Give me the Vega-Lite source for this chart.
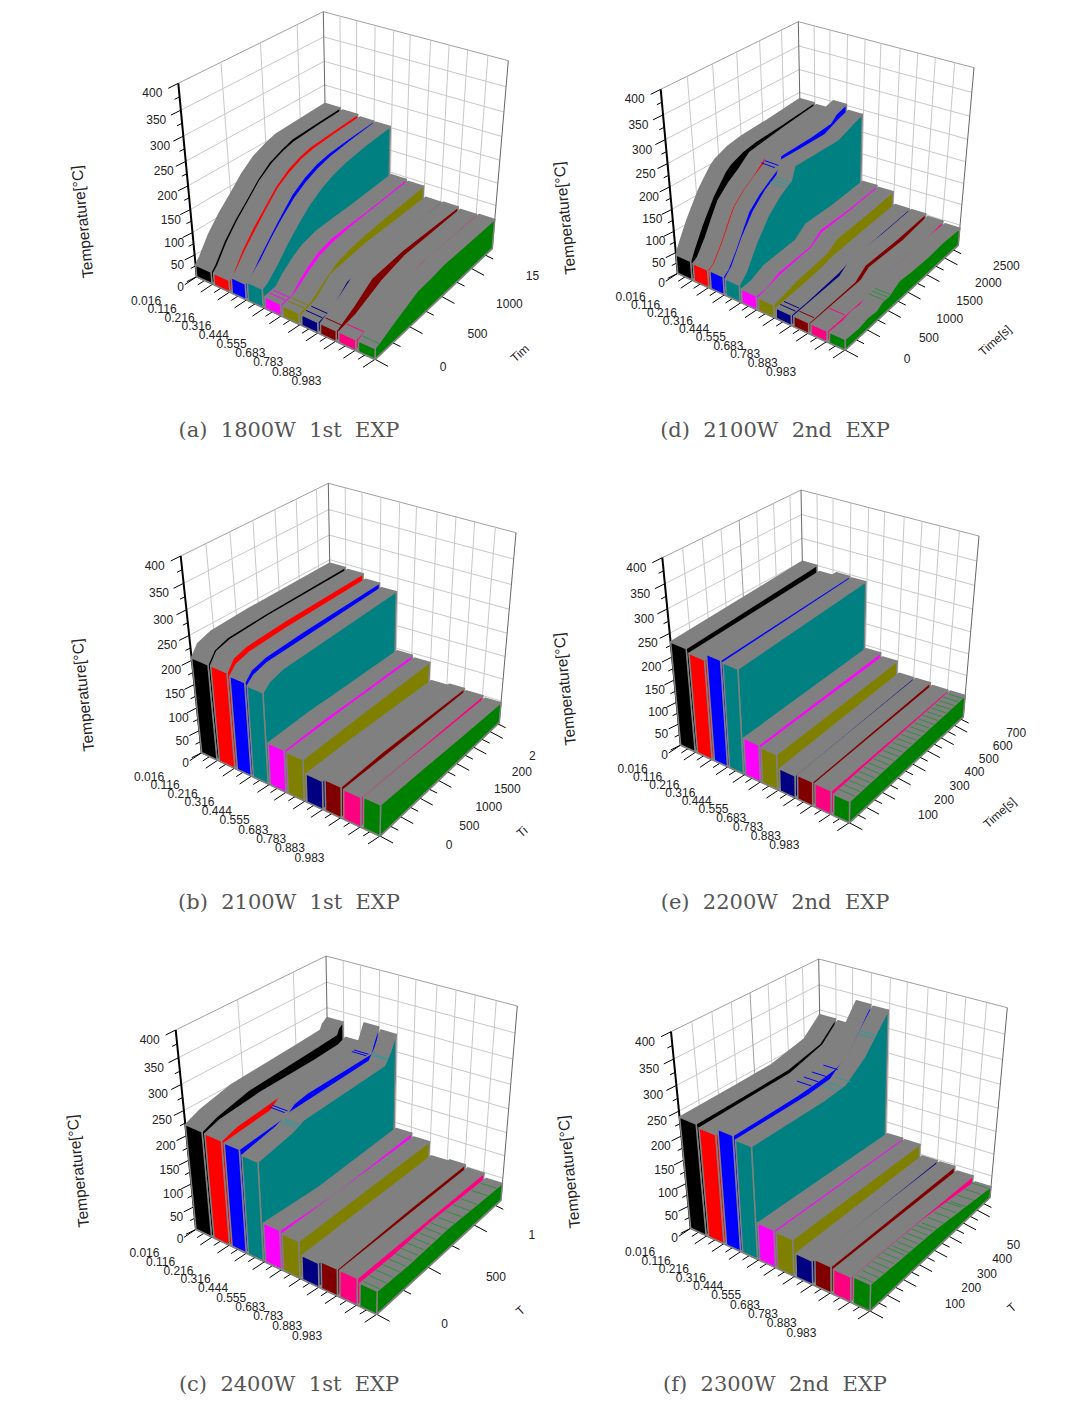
{"$schema":"https://vega.github.io/schema/vega-lite/v6.json","width":1070,"height":1406,"padding":0,"autosize":{"type":"fit","contains":"padding"},"background":"white","config":{"view":{"stroke":null}},
"params":[{"name":"P","value":{"a":[196.7,276.7,375,359.3,492.3,248.3,326.7,193.3,178.3,83.3,378.3,160,508.3,60.7,323.3,11.7,1880,68,7.5,289,431,82.7,221.7,-57],"b":[201.7,752.7,380,836,499.3,722.3,331.7,672.7,180.7,556,384,633.3,516,532.7,328.3,483.3,3300,69,9,289,903,83.3,695,-59],"c":[196,1229.3,376.7,1314.3,501,1200,329.3,1145,175.7,1030,380.7,1108.3,517.3,1006,326,956,1320,68,10,289,1385,78.3,1171,-58],"d":[677.7,273.3,845,350,958.3,245,801.7,196.7,660.7,89.3,848.3,160,974,67.7,798.3,21.7,2900,62,8.5,775,431,565,218,-53],"e":[680.7,745,849.3,822.7,963.3,716.7,804.3,666.7,662.3,557.7,852.7,633.3,979,536,801,490,770,62,8,775,903,565,689,-54],"f":[690.7,1228.3,870,1311,990,1197.3,822,1145,671,1031.7,874,1108.3,1007.3,1007.7,818.7,959,800,68,9,775,1385,569.3,1171.7,-57]}}],
"encoding":{"x":{"field":"X","type":"quantitative","scale":{"domain":[0,1070],"nice":false,"zero":false},"axis":null},"y":{"field":"Y","type":"quantitative","scale":{"domain":[1406,0],"nice":false,"zero":false},"axis":null}},
"layer":[
{"data":{"values":[
{"p":["a","b","c","d","e","f"],"c":"lh","val":[0,50,100,150,200,250,300,350,400]},
{"p":["a","b","c","d","e","f"],"c":"bh","val":[0,50,100,150,200,250,300,350,400]},
{"p":["a","b","c","d","e","f"],"c":"bv","val":[0.09,0.18,0.28,0.38,0.47,0.58,0.68,0.78,0.89]},
{"p":["a"],"c":"lv","val":[500,1000,1500]},
{"p":["b"],"c":"lv","val":[500,1000,1500,2000,2500,3000]},
{"p":["c"],"c":"lv","val":[500,1000]},
{"p":["d"],"c":"lv","val":[500,1000,1500,2000,2500]},
{"p":["e","f"],"c":"lv","val":[100,200,300,400,500,600,700]},
{"p":["a","b","c","d","e","f"],"c":"bl","val":[0]},
{"p":["a","b","c","d","e","f"],"c":"br","val":[0]},
{"p":["a","b","c","d","e","f"],"c":"ez","val":[0]},
{"p":["a","b","c","d","e","f"],"c":"re","val":[0]},
{"p":["a","b","c","d","e","f"],"c":"te","val":[0]},
{"p":["a","b","c","d","e","f"],"c":"rt","val":[0,0.09,0.185,0.28,0.38,0.474,0.58,0.68,0.78,0.89,1]},
{"p":["a","b","c","d","e","f"],"c":"rm","val":[0.045,0.137,0.233,0.328,0.425,0.525,0.63,0.73,0.835,0.945]},
{"p":["a","b","c","d","e","f"],"c":"zt","val":[0,50,100,150,200,250,300,350,400]},
{"p":["a","b","c","d","e","f"],"c":"zm","val":[25,75,125,175,225,275,325,375]},
{"p":["a"],"c":"tt","val":[0,500,1000,1500]},{"p":["a"],"c":"tm","val":[250,750,1250,1750]},
{"p":["b"],"c":"tt","val":[0,500,1000,1500,2000,2500,3000]},{"p":["b"],"c":"tm","val":[250,750,1250,1750,2250,2750,3250]},
{"p":["c"],"c":"tt","val":[0,500,1000]},{"p":["c"],"c":"tm","val":[250,750,1250]},
{"p":["d"],"c":"tt","val":[0,500,1000,1500,2000,2500]},{"p":["d"],"c":"tm","val":[250,750,1250,1750,2250,2750]},
{"p":["e","f"],"c":"tt","val":[0,100,200,300,400,500,600,700]},{"p":["e","f"],"c":"tm","val":[50,150,250,350,450,550,650,750]}
]},
"transform":[{"flatten":["p"]},{"flatten":["val"]},{"calculate":"[0,1]","as":"e"},{"flatten":["e"]},
{"calculate":"datum.val/P[datum.p][16]","as":"v0"},{"calculate":"datum.v0*1.15/(1+0.15*datum.v0)","as":"V"},
{"calculate":"datum.val/400","as":"w0"},{"calculate":"datum.w0*0.886/(1-0.114*datum.w0)","as":"W"},
{"calculate":"indexof(['bv','rt','rm'],datum.c)>=0?datum.val:indexof(['bh','re'],datum.c)>=0?datum.e:indexof(['tt','tm','br','te'],datum.c)>=0?1:0","as":"uu"},
{"calculate":"indexof(['lv','tt','tm'],datum.c)>=0?datum.V:indexof(['lh','te'],datum.c)>=0?datum.e:indexof(['bv','bh','bl','br'],datum.c)>=0?1:0","as":"vv"},
{"calculate":"indexof(['lv','bv','ez','bl','br'],datum.c)>=0?datum.e:indexof(['lh','bh','zt','zm'],datum.c)>=0?datum.W:0","as":"ww"},
{"calculate":"datum.e*({rt:-12,rm:-7,tt:13,tm:8,zt:-10,zm:-5}[datum.c]||0)","as":"ox"},
{"calculate":"datum.e*({rt:8,rm:4.5,tt:7,tm:4,zt:5,zm:2.5}[datum.c]||0)","as":"oy"},
{"calculate":"datum.ox+(1-datum.ww)*((1-datum.uu)*(1-datum.vv)*P[datum.p][0]+datum.uu*(1-datum.vv)*P[datum.p][2]+datum.uu*datum.vv*P[datum.p][4]+(1-datum.uu)*datum.vv*P[datum.p][6])+datum.ww*((1-datum.uu)*(1-datum.vv)*P[datum.p][8]+datum.uu*(1-datum.vv)*P[datum.p][10]+datum.uu*datum.vv*P[datum.p][12]+(1-datum.uu)*datum.vv*P[datum.p][14])","as":"X"},
{"calculate":"datum.oy+(1-datum.ww)*((1-datum.uu)*(1-datum.vv)*P[datum.p][1]+datum.uu*(1-datum.vv)*P[datum.p][3]+datum.uu*datum.vv*P[datum.p][5]+(1-datum.uu)*datum.vv*P[datum.p][7])+datum.ww*((1-datum.uu)*(1-datum.vv)*P[datum.p][9]+datum.uu*(1-datum.vv)*P[datum.p][11]+datum.uu*datum.vv*P[datum.p][13]+(1-datum.uu)*datum.vv*P[datum.p][15])","as":"Y"},
{"calculate":"datum.p+datum.c+datum.val","as":"id"},
{"calculate":"indexof(['ez','rt','rm','tt','tm','zt','zm'],datum.c)>=0?'#000000':indexof(['bl','br'],datum.c)>=0?'#666666':indexof(['re','te'],datum.c)>=0?'#808080':datum.val==400?'#a0a0a0':'#c8c8c8'","as":"sc"},
{"calculate":"indexof(['ez','re','te'],datum.c)>=0?2:1","as":"sw"}],
"mark":{"type":"line","interpolate":"linear"},
"encoding":{"detail":{"field":"id","type":"nominal"},"order":{"field":"e","type":"quantitative"},"stroke":{"field":"sc","type":"nominal","scale":null},"strokeWidth":{"field":"sw","type":"quantitative","scale":null}}},
{"data":{"values":[
{"p":"a","s":0,"t":0,"T":27},{"p":"a","s":0,"t":60,"T":40},{"p":"a","s":0,"t":190,"T":76},{"p":"a","s":0,"t":340,"T":107},{"p":"a","s":0,"t":500,"T":134},{"p":"a","s":0,"t":660,"T":162},{"p":"a","s":0,"t":830,"T":184},{"p":"a","s":0,"t":1000,"T":196},{"p":"a","s":0,"t":1150,"T":204},{"p":"a","s":0,"t":1500,"T":207},{"p":"a","s":0,"t":1880,"T":210},
{"p":"a","s":1,"t":0,"T":27},{"p":"a","s":1,"t":60,"T":38},{"p":"a","s":1,"t":190,"T":74},{"p":"a","s":1,"t":340,"T":106},{"p":"a","s":1,"t":500,"T":134},{"p":"a","s":1,"t":660,"T":162},{"p":"a","s":1,"t":830,"T":182},{"p":"a","s":1,"t":1000,"T":194},{"p":"a","s":1,"t":1150,"T":200},{"p":"a","s":1,"t":1500,"T":204},{"p":"a","s":1,"t":1880,"T":207},
{"p":"a","s":2,"t":0,"T":36},{"p":"a","s":2,"t":60,"T":42},{"p":"a","s":2,"t":190,"T":72},{"p":"a","s":2,"t":340,"T":102},{"p":"a","s":2,"t":500,"T":132},{"p":"a","s":2,"t":660,"T":160},{"p":"a","s":2,"t":830,"T":178},{"p":"a","s":2,"t":1000,"T":190},{"p":"a","s":2,"t":1180,"T":196},{"p":"a","s":2,"t":1500,"T":200},{"p":"a","s":2,"t":1880,"T":203},
{"p":"a","s":3,"t":0,"T":42},{"p":"a","s":3,"t":60,"T":48},{"p":"a","s":3,"t":190,"T":70},{"p":"a","s":3,"t":340,"T":100},{"p":"a","s":3,"t":500,"T":128},{"p":"a","s":3,"t":660,"T":152},{"p":"a","s":3,"t":830,"T":170},{"p":"a","s":3,"t":1000,"T":182},{"p":"a","s":3,"t":1180,"T":190},{"p":"a","s":3,"t":1500,"T":197},{"p":"a","s":3,"t":1880,"T":202},
{"p":"a","s":4,"t":0,"T":27},{"p":"a","s":4,"t":150,"T":30},{"p":"a","s":4,"t":240,"T":47},{"p":"a","s":4,"t":380,"T":66},{"p":"a","s":4,"t":520,"T":80},{"p":"a","s":4,"t":700,"T":88},{"p":"a","s":4,"t":960,"T":90},{"p":"a","s":4,"t":1220,"T":90},{"p":"a","s":4,"t":1880,"T":95},
{"p":"a","s":5,"t":0,"T":25},{"p":"a","s":5,"t":150,"T":30},{"p":"a","s":5,"t":250,"T":42},{"p":"a","s":5,"t":380,"T":58},{"p":"a","s":5,"t":520,"T":72},{"p":"a","s":5,"t":700,"T":80},{"p":"a","s":5,"t":960,"T":85},{"p":"a","s":5,"t":1250,"T":88},{"p":"a","s":5,"t":1880,"T":92},
{"p":"a","s":6,"t":0,"T":24},{"p":"a","s":6,"t":200,"T":32},{"p":"a","s":6,"t":400,"T":62},{"p":"a","s":6,"t":900,"T":70},{"p":"a","s":6,"t":1880,"T":68},
{"p":"a","s":7,"t":0,"T":24},{"p":"a","s":7,"t":240,"T":45},{"p":"a","s":7,"t":500,"T":74},{"p":"a","s":7,"t":950,"T":78},{"p":"a","s":7,"t":1880,"T":70},
{"p":"a","s":8,"t":0,"T":24},{"p":"a","s":8,"t":240,"T":30},{"p":"a","s":8,"t":600,"T":55},{"p":"a","s":8,"t":950,"T":68},{"p":"a","s":8,"t":1880,"T":66},
{"p":"a","s":9,"t":0,"T":24},{"p":"a","s":9,"t":280,"T":45},{"p":"a","s":9,"t":600,"T":66},{"p":"a","s":9,"t":800,"T":68},{"p":"a","s":9,"t":1000,"T":72},{"p":"a","s":9,"t":1400,"T":70},{"p":"a","s":9,"t":1880,"T":68},
{"p":"b","s":0,"t":0,"T":205},{"p":"b","s":0,"t":150,"T":226},{"p":"b","s":0,"t":450,"T":236},{"p":"b","s":0,"t":1300,"T":240},{"p":"b","s":0,"t":3300,"T":243},
{"p":"b","s":1,"t":0,"T":205},{"p":"b","s":1,"t":150,"T":226},{"p":"b","s":1,"t":450,"T":234},{"p":"b","s":1,"t":1300,"T":238},{"p":"b","s":1,"t":3300,"T":240},
{"p":"b","s":2,"t":0,"T":200},{"p":"b","s":2,"t":150,"T":216},{"p":"b","s":2,"t":450,"T":224},{"p":"b","s":2,"t":1300,"T":228},{"p":"b","s":2,"t":3300,"T":230},
{"p":"b","s":3,"t":0,"T":195},{"p":"b","s":3,"t":150,"T":208},{"p":"b","s":3,"t":450,"T":216},{"p":"b","s":3,"t":3300,"T":222},
{"p":"b","s":4,"t":0,"T":92},{"p":"b","s":4,"t":1000,"T":96},{"p":"b","s":4,"t":1500,"T":95},{"p":"b","s":4,"t":3300,"T":95},
{"p":"b","s":5,"t":0,"T":90},{"p":"b","s":5,"t":1500,"T":91},{"p":"b","s":5,"t":3300,"T":90},
{"p":"b","s":6,"t":0,"T":62},{"p":"b","s":6,"t":1000,"T":60},{"p":"b","s":6,"t":3300,"T":50},
{"p":"b","s":7,"t":0,"T":68},{"p":"b","s":7,"t":1000,"T":68},{"p":"b","s":7,"t":3300,"T":54},
{"p":"b","s":8,"t":0,"T":65},{"p":"b","s":8,"t":1000,"T":60},{"p":"b","s":8,"t":3300,"T":50},
{"p":"b","s":9,"t":0,"T":68},{"p":"b","s":9,"t":1000,"T":62},{"p":"b","s":9,"t":2000,"T":54},{"p":"b","s":9,"t":3300,"T":46},
{"p":"c","s":0,"t":0,"T":222},{"p":"c","s":0,"t":130,"T":235},{"p":"c","s":0,"t":400,"T":250},{"p":"c","s":0,"t":1000,"T":258},{"p":"c","s":0,"t":1250,"T":262},{"p":"c","s":0,"t":1270,"T":272},{"p":"c","s":0,"t":1320,"T":280},
{"p":"c","s":1,"t":0,"T":220},{"p":"c","s":1,"t":130,"T":230},{"p":"c","s":1,"t":400,"T":236},{"p":"c","s":1,"t":480,"T":238},{"p":"c","s":1,"t":1000,"T":240},{"p":"c","s":1,"t":1240,"T":243},{"p":"c","s":1,"t":1320,"T":250},
{"p":"c","s":2,"t":0,"T":218},{"p":"c","s":2,"t":400,"T":226},{"p":"c","s":2,"t":480,"T":240},{"p":"c","s":2,"t":600,"T":245},{"p":"c","s":2,"t":1000,"T":245},{"p":"c","s":2,"t":1240,"T":245},{"p":"c","s":2,"t":1260,"T":258},{"p":"c","s":2,"t":1320,"T":290},
{"p":"c","s":3,"t":0,"T":208},{"p":"c","s":3,"t":300,"T":222},{"p":"c","s":3,"t":400,"T":232},{"p":"c","s":3,"t":1200,"T":236},{"p":"c","s":3,"t":1260,"T":255},{"p":"c","s":3,"t":1320,"T":285},
{"p":"c","s":4,"t":0,"T":85},{"p":"c","s":4,"t":500,"T":78},{"p":"c","s":4,"t":1320,"T":87},
{"p":"c","s":5,"t":0,"T":80},{"p":"c","s":5,"t":1320,"T":80},
{"p":"c","s":6,"t":0,"T":52},{"p":"c","s":6,"t":1320,"T":50},
{"p":"c","s":7,"t":0,"T":58},{"p":"c","s":7,"t":700,"T":58},{"p":"c","s":7,"t":1320,"T":54},
{"p":"c","s":8,"t":0,"T":58},{"p":"c","s":8,"t":1320,"T":48},
{"p":"c","s":9,"t":0,"T":50},{"p":"c","s":9,"t":300,"T":46},{"p":"c","s":9,"t":700,"T":48},{"p":"c","s":9,"t":1000,"T":43},{"p":"c","s":9,"t":1320,"T":38},
{"p":"d","s":0,"t":0,"T":45},{"p":"d","s":0,"t":100,"T":70},{"p":"d","s":0,"t":270,"T":108},{"p":"d","s":0,"t":440,"T":140},{"p":"d","s":0,"t":550,"T":160},{"p":"d","s":0,"t":815,"T":196},{"p":"d","s":0,"t":930,"T":206},{"p":"d","s":0,"t":1200,"T":218},{"p":"d","s":0,"t":1510,"T":224},{"p":"d","s":0,"t":2100,"T":228},{"p":"d","s":0,"t":2900,"T":236},
{"p":"d","s":1,"t":0,"T":42},{"p":"d","s":1,"t":100,"T":50},{"p":"d","s":1,"t":280,"T":83},{"p":"d","s":1,"t":450,"T":120},{"p":"d","s":1,"t":585,"T":148},{"p":"d","s":1,"t":815,"T":172},{"p":"d","s":1,"t":1030,"T":188},{"p":"d","s":1,"t":1300,"T":212},{"p":"d","s":1,"t":2100,"T":224},{"p":"d","s":1,"t":2900,"T":233},
{"p":"d","s":2,"t":0,"T":43},{"p":"d","s":2,"t":100,"T":52},{"p":"d","s":2,"t":280,"T":85},{"p":"d","s":2,"t":450,"T":122},{"p":"d","s":2,"t":585,"T":150},{"p":"d","s":2,"t":815,"T":174},{"p":"d","s":2,"t":1030,"T":190},{"p":"d","s":2,"t":1250,"T":205},{"p":"d","s":2,"t":1320,"T":228},{"p":"d","s":2,"t":2030,"T":228},{"p":"d","s":2,"t":2500,"T":232},{"p":"d","s":2,"t":2650,"T":245},{"p":"d","s":2,"t":2900,"T":252},
{"p":"d","s":3,"t":0,"T":40},{"p":"d","s":3,"t":150,"T":58},{"p":"d","s":3,"t":380,"T":106},{"p":"d","s":3,"t":650,"T":150},{"p":"d","s":3,"t":920,"T":178},{"p":"d","s":3,"t":1180,"T":195},{"p":"d","s":3,"t":1260,"T":222},{"p":"d","s":3,"t":1700,"T":220},{"p":"d","s":3,"t":2300,"T":218},{"p":"d","s":3,"t":2650,"T":232},{"p":"d","s":3,"t":2900,"T":240},
{"p":"d","s":4,"t":0,"T":33},{"p":"d","s":4,"t":200,"T":35},{"p":"d","s":4,"t":480,"T":50},{"p":"d","s":4,"t":1200,"T":57},{"p":"d","s":4,"t":1450,"T":78},{"p":"d","s":4,"t":2150,"T":78},{"p":"d","s":4,"t":2900,"T":85},
{"p":"d","s":5,"t":0,"T":30},{"p":"d","s":5,"t":500,"T":45},{"p":"d","s":5,"t":1200,"T":55},{"p":"d","s":5,"t":1450,"T":72},{"p":"d","s":5,"t":2150,"T":75},{"p":"d","s":5,"t":2900,"T":82},
{"p":"d","s":6,"t":0,"T":25},{"p":"d","s":6,"t":350,"T":27},{"p":"d","s":6,"t":1050,"T":35},{"p":"d","s":6,"t":1300,"T":42},{"p":"d","s":6,"t":2250,"T":48},{"p":"d","s":6,"t":2900,"T":52},
{"p":"d","s":7,"t":0,"T":25},{"p":"d","s":7,"t":1050,"T":30},{"p":"d","s":7,"t":1300,"T":50},{"p":"d","s":7,"t":2100,"T":48},{"p":"d","s":7,"t":2900,"T":52},
{"p":"d","s":8,"t":0,"T":25},{"p":"d","s":8,"t":1150,"T":27},{"p":"d","s":8,"t":1350,"T":42},{"p":"d","s":8,"t":2200,"T":38},{"p":"d","s":8,"t":2900,"T":47},
{"p":"d","s":9,"t":0,"T":25},{"p":"d","s":9,"t":300,"T":23},{"p":"d","s":9,"t":500,"T":28},{"p":"d","s":9,"t":700,"T":25},{"p":"d","s":9,"t":850,"T":34},{"p":"d","s":9,"t":1000,"T":33},{"p":"d","s":9,"t":1250,"T":48},{"p":"d","s":9,"t":1600,"T":44},{"p":"d","s":9,"t":2000,"T":42},{"p":"d","s":9,"t":2400,"T":45},{"p":"d","s":9,"t":2900,"T":42},
{"p":"e","s":0,"t":0,"T":232},{"p":"e","s":0,"t":770,"T":250},
{"p":"e","s":1,"t":0,"T":224},{"p":"e","s":1,"t":770,"T":238},
{"p":"e","s":2,"t":0,"T":238},{"p":"e","s":2,"t":770,"T":246},
{"p":"e","s":3,"t":0,"T":235},{"p":"e","s":3,"t":770,"T":244},
{"p":"e","s":4,"t":0,"T":86},{"p":"e","s":4,"t":770,"T":92},
{"p":"e","s":5,"t":0,"T":82},{"p":"e","s":5,"t":770,"T":84},
{"p":"e","s":6,"t":0,"T":52},{"p":"e","s":6,"t":770,"T":57},
{"p":"e","s":7,"t":0,"T":56},{"p":"e","s":7,"t":770,"T":57},
{"p":"e","s":8,"t":0,"T":55},{"p":"e","s":8,"t":770,"T":52},
{"p":"e","s":9,"t":0,"T":50},{"p":"e","s":9,"t":770,"T":52},
{"p":"f","s":0,"t":0,"T":238},{"p":"f","s":0,"t":300,"T":240},{"p":"f","s":0,"t":500,"T":242},{"p":"f","s":0,"t":700,"T":258},{"p":"f","s":0,"t":800,"T":290},
{"p":"f","s":1,"t":0,"T":232},{"p":"f","s":1,"t":500,"T":236},{"p":"f","s":1,"t":700,"T":256},{"p":"f","s":1,"t":800,"T":288},
{"p":"f","s":2,"t":0,"T":245},{"p":"f","s":2,"t":350,"T":245},{"p":"f","s":2,"t":480,"T":248},{"p":"f","s":2,"t":570,"T":252},{"p":"f","s":2,"t":640,"T":262},{"p":"f","s":2,"t":720,"T":298},{"p":"f","s":2,"t":800,"T":338},
{"p":"f","s":3,"t":0,"T":238},{"p":"f","s":3,"t":400,"T":236},{"p":"f","s":3,"t":530,"T":240},{"p":"f","s":3,"t":650,"T":272},{"p":"f","s":3,"t":800,"T":336},
{"p":"f","s":4,"t":0,"T":82},{"p":"f","s":4,"t":800,"T":74},
{"p":"f","s":5,"t":0,"T":80},{"p":"f","s":5,"t":800,"T":72},
{"p":"f","s":6,"t":0,"T":52},{"p":"f","s":6,"t":800,"T":47},
{"p":"f","s":7,"t":0,"T":58},{"p":"f","s":7,"t":400,"T":52},{"p":"f","s":7,"t":800,"T":46},
{"p":"f","s":8,"t":0,"T":55},{"p":"f","s":8,"t":800,"T":37},
{"p":"f","s":9,"t":0,"T":58},{"p":"f","s":9,"t":400,"T":48},{"p":"f","s":9,"t":800,"T":25}
]},
"transform":[{"calculate":"['tl','tr','sr','sb','f1','f2','f3','f4']","as":"k"},{"flatten":["k"]},
{"filter":"slice(datum.k,0,1)!='f'||datum.t==0"},
{"calculate":"[0,0.1,0.2,0.29,0.385,0.485,0.59,0.695,0.797,0.907][datum.s]","as":"L"},
{"calculate":"datum.L+[0.086,0.086,0.078,0.083,0.088,0.09,0.09,0.088,0.095,0.093][datum.s]","as":"R"},
{"calculate":"datum.t/P[datum.p][16]","as":"v0"},{"calculate":"datum.v0*1.15/(1+0.15*datum.v0)","as":"vv"},
{"calculate":"datum.T/400","as":"w0"},
{"calculate":"indexof(['sb','f1','f2'],datum.k)>=0?0:datum.w0*0.886/(1-0.114*datum.w0)","as":"ww"},
{"calculate":"indexof(['tl','f1','f4'],datum.k)>=0?datum.L:datum.R","as":"uu"},
{"calculate":"{tl:datum.t+1,tr:-datum.t-1,sr:datum.t+1,sb:-datum.t-1,f1:1,f2:2,f3:3,f4:4}[datum.k]","as":"o"},
{"calculate":"slice(datum.k,0,1)","as":"face"},
{"calculate":"datum.p+'-'+datum.s+'-'+datum.face","as":"id"},
{"calculate":"datum.face=='t'?'#808080':['#000000','#ff0000','#0000ff','#008080','#ff00ff','#808000','#000080','#800000','#ff0080','#008000'][datum.s]","as":"col"},
{"calculate":"(1-datum.ww)*((1-datum.uu)*(1-datum.vv)*P[datum.p][0]+datum.uu*(1-datum.vv)*P[datum.p][2]+datum.uu*datum.vv*P[datum.p][4]+(1-datum.uu)*datum.vv*P[datum.p][6])+datum.ww*((1-datum.uu)*(1-datum.vv)*P[datum.p][8]+datum.uu*(1-datum.vv)*P[datum.p][10]+datum.uu*datum.vv*P[datum.p][12]+(1-datum.uu)*datum.vv*P[datum.p][14])","as":"X"},
{"calculate":"(1-datum.ww)*((1-datum.uu)*(1-datum.vv)*P[datum.p][1]+datum.uu*(1-datum.vv)*P[datum.p][3]+datum.uu*datum.vv*P[datum.p][5]+(1-datum.uu)*datum.vv*P[datum.p][7])+datum.ww*((1-datum.uu)*(1-datum.vv)*P[datum.p][9]+datum.uu*(1-datum.vv)*P[datum.p][11]+datum.uu*datum.vv*P[datum.p][13]+(1-datum.uu)*datum.vv*P[datum.p][15])","as":"Y"}],
"mark":{"type":"line","interpolate":"linear-closed","stroke":"#808080","strokeWidth":1.5,"strokeJoin":"round"},
"encoding":{"detail":{"field":"id","type":"nominal"},"order":{"field":"o","type":"quantitative"},"fill":{"field":"col","type":"nominal","scale":null}}},
{"data":{"values":[
{"p":["e"],"s":9,"T":51,"t":[30,60,90,120,150,180,210,240,270,300,330,360,390,420,450,480,510,540,570,600,630,660,690,720,750]},
{"p":["f"],"s":9,"T":55,"t":[20,50,80,110,140,170,200]},
{"p":["f"],"s":9,"T":50,"t":[230,260,290,320,350,380]},
{"p":["f"],"s":9,"T":42,"t":[420,460,500,540,580]},
{"p":["f"],"s":9,"T":31,"t":[620,670,720,770]},
{"p":["c"],"s":9,"T":48,"t":[30,90,150,210,270,330,390,450,510,570,630,690]},
{"p":["c"],"s":9,"T":43,"t":[780,860,940,1020]},
{"p":["c"],"s":9,"T":39,"t":[1150,1250]},
{"p":["c"],"s":2,"T":234,"t":[395,420]},
{"p":["c"],"s":3,"T":226,"t":[330,355,375]},
{"p":["c"],"s":2,"T":247,"t":[1190,1215]},
{"p":["c"],"s":3,"T":245,"t":[1225,1240]},
{"p":["f"],"s":2,"T":247,"t":[430,470,520,590]},
{"p":["f"],"s":3,"T":239,"t":[480,510,560]},
{"p":["f"],"s":3,"T":300,"t":[700,725]},
{"p":["d"],"s":3,"T":190,"t":[1020,1100,1180]},
{"p":["d"],"s":2,"T":210,"t":[1180,1260]},
{"p":["d"],"s":9,"T":34,"t":[900,980,1050]},
{"p":["a"],"s":4,"T":28,"t":[60,110]},
{"p":["a"],"s":5,"T":27,"t":[70,120]},
{"p":["a"],"s":6,"T":26,"t":[60,130]},
{"p":["a"],"s":7,"T":27,"t":[70]},
{"p":["a"],"s":8,"T":26,"t":[110]},
{"p":["a"],"s":9,"T":26,"t":[60]},
{"p":["d"],"s":6,"T":26,"t":[90,170]},
{"p":["d"],"s":7,"T":26,"t":[120]},
{"p":["d"],"s":8,"T":26,"t":[400]}
]},
"transform":[{"flatten":["p"]},{"flatten":["t"]},{"calculate":"[0,1]","as":"e"},{"flatten":["e"]},
{"calculate":"[0,0.1,0.2,0.29,0.385,0.485,0.59,0.695,0.797,0.907][datum.s]","as":"L"},
{"calculate":"datum.L+datum.e*[0.086,0.086,0.078,0.083,0.088,0.09,0.09,0.088,0.095,0.093][datum.s]","as":"uu"},
{"calculate":"datum.t/P[datum.p][16]","as":"v0"},{"calculate":"datum.v0*1.15/(1+0.15*datum.v0)","as":"vv"},
{"calculate":"datum.T/400","as":"w0"},{"calculate":"datum.w0*0.886/(1-0.114*datum.w0)","as":"ww"},
{"calculate":"datum.p+'-'+datum.s+'-'+datum.t","as":"id"},
{"calculate":"['#000000','#ff0000','#0000ff','#2f9a9a','#ff00ff','#808000','#000080','#800000','#ff0080','#2f8f3f'][datum.s]","as":"col"},
{"calculate":"(1-datum.ww)*((1-datum.uu)*(1-datum.vv)*P[datum.p][0]+datum.uu*(1-datum.vv)*P[datum.p][2]+datum.uu*datum.vv*P[datum.p][4]+(1-datum.uu)*datum.vv*P[datum.p][6])+datum.ww*((1-datum.uu)*(1-datum.vv)*P[datum.p][8]+datum.uu*(1-datum.vv)*P[datum.p][10]+datum.uu*datum.vv*P[datum.p][12]+(1-datum.uu)*datum.vv*P[datum.p][14])","as":"X"},
{"calculate":"(1-datum.ww)*((1-datum.uu)*(1-datum.vv)*P[datum.p][1]+datum.uu*(1-datum.vv)*P[datum.p][3]+datum.uu*datum.vv*P[datum.p][5]+(1-datum.uu)*datum.vv*P[datum.p][7])+datum.ww*((1-datum.uu)*(1-datum.vv)*P[datum.p][9]+datum.uu*(1-datum.vv)*P[datum.p][11]+datum.uu*datum.vv*P[datum.p][13]+(1-datum.uu)*datum.vv*P[datum.p][15])","as":"Y"}],
"mark":{"type":"line","interpolate":"linear","strokeWidth":1},
"encoding":{"detail":{"field":"id","type":"nominal"},"order":{"field":"e","type":"quantitative"},"stroke":{"field":"col","type":"nominal","scale":null}}},
{"data":{"values":[
{"p":["a","b","c","d","e","f"],"c":"zl","val":[0,50,100,150,200,250,300,350,400],"label":["0","50","100","150","200","250","300","350","400"]},
{"p":["a","b","c","d","e","f"],"c":"rl","val":[0.045,0.137,0.233,0.328,0.425,0.525,0.63,0.73,0.835,0.945],"label":["0.016","0.116","0.216","0.316","0.444","0.555","0.683","0.783","0.883","0.983"]},
{"p":["a"],"c":"tl","val":[0,500,1000,1500],"label":["0","500","1000","15"]},
{"p":["b"],"c":"tl","val":[0,500,1000,1500,2000,2500],"label":["0","500","1000","1500","200","2"]},
{"p":["c"],"c":"tl","val":[0,500,1000],"label":["0","500","1"]},
{"p":["d"],"c":"tl","val":[0,500,1000,1500,2000,2500],"label":["0","500","1000","1500","2000","2500"]},
{"p":["e"],"c":"tl","val":[100,200,300,400,500,600,700],"label":["100","200","300","400","500","600","700"]},
{"p":["f"],"c":"tl","val":[100,200,300,400,500],"label":["100","200","300","400","50"]}
]},
"transform":[{"flatten":["p"]},{"flatten":["val","label"]},
{"calculate":"datum.val/P[datum.p][16]","as":"v0"},{"calculate":"datum.val/400","as":"w0"},
{"calculate":"datum.c=='rl'?datum.val:datum.c=='tl'?1:0","as":"uu"},
{"calculate":"datum.c=='tl'?datum.v0*1.15/(1+0.15*datum.v0):0","as":"vv"},
{"calculate":"datum.c=='zl'?datum.w0*0.886/(1-0.114*datum.w0):0","as":"ww"},
{"calculate":"length(datum.c=='tl'?''+datum.val:datum.label)*3.34","as":"hw"},
{"calculate":"-datum.hw+(datum.c=='zl'?-16-10*datum.ww:datum.c=='rl'?P[datum.p][23]:P[datum.p][17])+(1-datum.ww)*((1-datum.uu)*(1-datum.vv)*P[datum.p][0]+datum.uu*(1-datum.vv)*P[datum.p][2]+datum.uu*datum.vv*P[datum.p][4]+(1-datum.uu)*datum.vv*P[datum.p][6])+datum.ww*((1-datum.uu)*(1-datum.vv)*P[datum.p][8]+datum.uu*(1-datum.vv)*P[datum.p][10]+datum.uu*datum.vv*P[datum.p][12]+(1-datum.uu)*datum.vv*P[datum.p][14])","as":"X"},
{"calculate":"(datum.c=='zl'?10:datum.c=='rl'?20+7*datum.uu:P[datum.p][18])+(1-datum.ww)*((1-datum.uu)*(1-datum.vv)*P[datum.p][1]+datum.uu*(1-datum.vv)*P[datum.p][3]+datum.uu*datum.vv*P[datum.p][5]+(1-datum.uu)*datum.vv*P[datum.p][7])+datum.ww*((1-datum.uu)*(1-datum.vv)*P[datum.p][9]+datum.uu*(1-datum.vv)*P[datum.p][11]+datum.uu*datum.vv*P[datum.p][13]+(1-datum.uu)*datum.vv*P[datum.p][15])","as":"Y"}],
"mark":{"type":"text","align":"left","baseline":"middle","font":"Liberation Sans","fontSize":12,"color":"#222222"},
"encoding":{"text":{"field":"label","type":"nominal"}}},
{"data":{"values":[{"p":"a","label":"Tim"},{"p":"b","label":"Ti"},{"p":"c","label":"T"},{"p":"d","label":"Time[s]"},{"p":"e","label":"Time[s]"},{"p":"f","label":"T"}]},
"transform":[{"calculate":"(P[datum.p][2]+P[datum.p][4])/2+79","as":"X"},{"calculate":"(P[datum.p][3]+P[datum.p][5])/2+56","as":"Y"}],
"mark":{"type":"text","align":"left","baseline":"middle","angle":318,"font":"Liberation Sans","fontSize":12,"color":"#222222"},
"encoding":{"text":{"field":"label","type":"nominal"}}},
{"data":{"values":[{"p":"a"},{"p":"b"},{"p":"c"},{"p":"d"},{"p":"e"},{"p":"f"}]},
"transform":[{"calculate":"P[datum.p][21]","as":"X"},{"calculate":"P[datum.p][22]","as":"Y"},{"calculate":"'Temperature[°C]'","as":"label"}],
"mark":{"type":"text","align":"center","baseline":"middle","angle":264,"font":"Liberation Sans","fontSize":15.5,"color":"#222222"},
"encoding":{"text":{"field":"label","type":"nominal"}}},
{"data":{"values":[{"p":"a","label":"(a) \u00a01800W \u00a01st \u00a0EXP"},{"p":"b","label":"(b) \u00a02100W \u00a01st \u00a0EXP"},{"p":"c","label":"(c) \u00a02400W \u00a01st \u00a0EXP"},{"p":"d","label":"(d) \u00a02100W \u00a02nd \u00a0EXP"},{"p":"e","label":"(e) \u00a02200W \u00a02nd \u00a0EXP"},{"p":"f","label":"(f) \u00a02300W \u00a02nd \u00a0EXP"}]},
"transform":[{"calculate":"P[datum.p][19]","as":"X"},{"calculate":"P[datum.p][20]","as":"Y"}],
"mark":{"type":"text","align":"center","baseline":"middle","font":"DejaVu Serif","fontSize":21,"color":"#555555"},
"encoding":{"text":{"field":"label","type":"nominal"}}}
]}
